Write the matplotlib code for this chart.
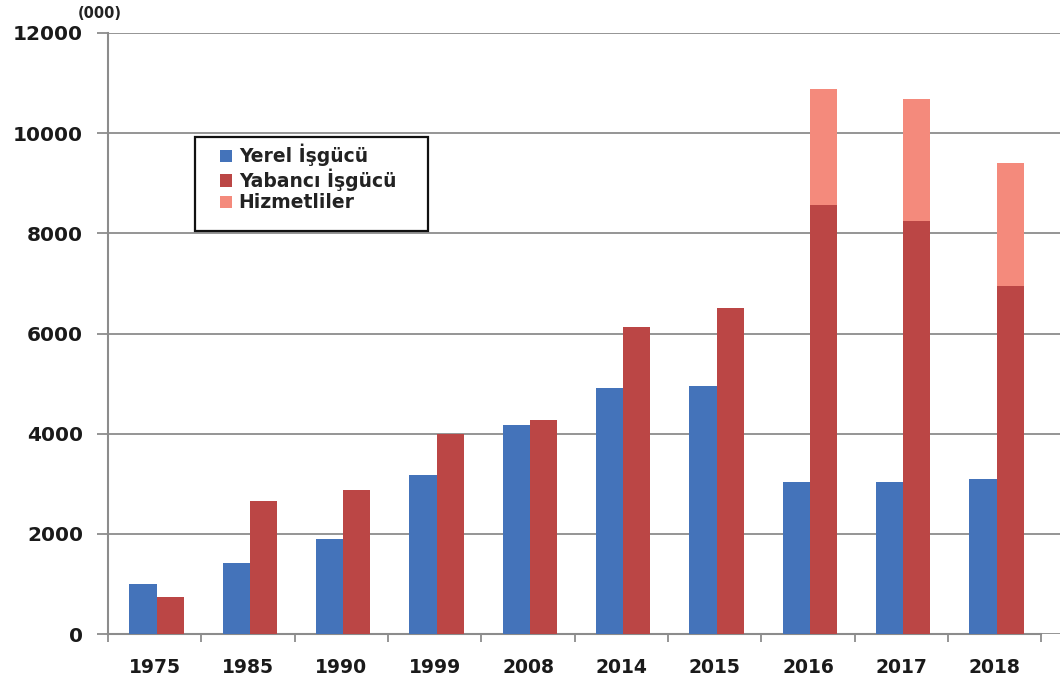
import numpy as np
import matplotlib.pyplot as plt
from matplotlib.patches import Rectangle

years = ['1975', '1985', '1990', '1999', '2008', '2014', '2015', '2016', '2017', '2018']
yerel = [1000, 1420, 1900, 3180, 4170, 4920, 4950, 3030, 3030, 3100]
yabanci = [730, 2660, 2870, 4000, 4270, 6120, 6500, 8560, 8250, 6950]
hizmetli = [0, 0, 0, 0, 0, 0, 0, 2330, 2430, 2460]

c_blue = '#4473BA'
c_red = '#BB4645'
c_pink = '#F48A7C'

plt.rcParams['font.family'] = ['DejaVu Sans']

fig = plt.figure(figsize=(10.6, 6.8), dpi=100)
ax = fig.add_axes([108 / 1060, 46 / 680, 952 / 1060, 601 / 680])

x = np.arange(len(years))
w = 0.29
ax.bar(x - w / 2 + 0.02, yerel, w, color=c_blue, label='Yerel İşgücü', zorder=3)
ax.bar(x + w / 2 + 0.02, yabanci, w, color=c_red, label='Yabancı İşgücü', zorder=3)
ax.bar(x + w / 2 + 0.02, hizmetli, w, bottom=yabanci, color=c_pink, label='Hizmetliler', zorder=3)

ax.set_xlim(-0.5, 9.7)
ax.set_ylim(0, 12000)
ax.set_yticks(range(0, 12001, 2000))
ax.yaxis.grid(True, color='#8c8c8c', linewidth=1.3, zorder=0)

ax.set_xticks(x)
ax.set_xticklabels(years, fontsize=13.5, fontweight='bold', color='#1a1a1a')
ax.set_xticks(np.arange(-0.5, 9.6, 1), minor=True)
ax.tick_params(axis='x', which='major', length=0, pad=17)
ax.tick_params(axis='x', which='minor', length=6, width=1.3, color='#8c8c8c', direction='out')
ax.tick_params(axis='y', length=8, width=1.3, color='#8c8c8c', labelsize=14.5, pad=10)
for lab in ax.get_yticklabels():
    lab.set_fontweight('bold')
    lab.set_color('#1a1a1a')

for s in ['top', 'right']:
    ax.spines[s].set_visible(False)
for s in ['left', 'bottom']:
    ax.spines[s].set_color('#8c8c8c')
    ax.spines[s].set_linewidth(1.5)
ax.spines['bottom'].set_bounds(-0.5, 9.5)

fig.text(78 / 1060, 1 - 14 / 680, '(000)', fontsize=10.5, fontweight='bold', va='center', color='#222222')

# legend frame drawn by hand so the inner padding matches
frame = Rectangle((87 / 952, 1 - (231 - 33) / 601), 233 / 952, 94 / 601, transform=ax.transAxes,
                  facecolor='white', edgecolor='#111111', linewidth=1.6, zorder=4)
ax.add_patch(frame)
leg = ax.legend(loc='upper left', bbox_to_anchor=(112 / 952, 1 - (144 - 33) / 601), fontsize=13.5,
                frameon=False, handlelength=0.65, handleheight=0.65, handletextpad=0.35,
                borderpad=0, labelspacing=0.12, borderaxespad=0)
leg.set_zorder(5)
for t in leg.get_texts():
    t.set_fontweight('bold')
    t.set_color('#222222')

fig.savefig('out.png', dpi=100)
